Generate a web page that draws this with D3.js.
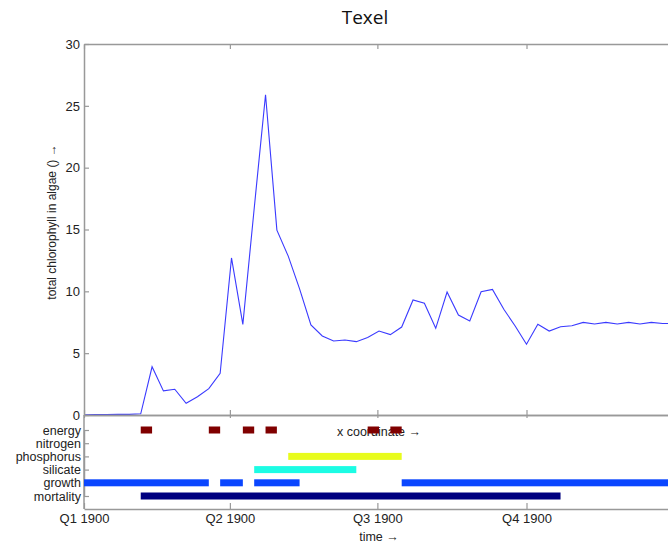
<!DOCTYPE html>
<html>
<head>
<meta charset="utf-8">
<script src="https://cdn.jsdelivr.net/npm/d3@7"></script>
<style>
  body { margin: 0; background: #fff; }
  svg { display: block; font-family: "Liberation Sans", Arial, sans-serif; }
</style>
</head>
<body>
<svg></svg>
<script>
// ---------------- data ----------------
// weekly chlorophyll values, week 0 = 1 Jan 1900
const chlorophyll = [0.02, 0.03, 0.04, 0.05, 0.05, 0.1, 3.9, 1.95, 2.08, 0.95,
  1.48, 2.13, 3.37, 12.7, 7.33, 16.7, 25.9, 14.95, 12.85, 10.2,
  7.28, 6.39, 5.98, 6.06, 5.93, 6.26, 6.79, 6.5, 7.11, 9.3,
  9.03, 7.01, 9.94, 8.08, 7.6, 9.97, 10.16, 8.55, 7.2, 5.72,
  7.33, 6.79, 7.14, 7.22, 7.49, 7.36, 7.49, 7.36, 7.49, 7.36,
  7.49, 7.4, 7.4];

const rows = ["energy", "nitrogen", "phosphorus", "silicate", "growth", "mortality"];
const rowColors = ["#800000", "#000000", "#e8fc1c", "#1cfce4", "#0a46ff", "#000080"];
// limiting periods, [start week, end week]
const energyWeeks = [[5, 6], [11, 12], [14, 15], [16, 17], [25, 26], [27, 28]];
const nitrogenWeeks = [];
const phosphorusWeeks = [[18, 28]];
const silicateWeeks = [[15, 24]];
const growthWeeks = [[0, 11], [12, 14], [15, 19], [28, 52]];
const mortalityWeeks = [[5, 42]];
const periods = [energyWeeks, nitrogenWeeks, phosphorusWeeks, silicateWeeks, growthWeeks, mortalityWeeks];

const yTicks = [0, 5, 10, 15, 20, 25, 30];

// ---------------- layout ----------------
const W = 668, H = 548;
const left = 84, right = 674;
const top1 = 44, bot1 = 415;
const bot2 = 509;
const axisColor = "#999";
const textColor = "#222";

const svg = d3.select("svg").attr("width", W).attr("height", H);
svg.append("rect").attr("width", W).attr("height", H).attr("fill", "#fff");

const start = new Date(1900, 0, 1);
const weekDate = w => d3.timeDay.offset(start, w * 7);

const xs = d3.scaleTime().domain([start, weekDate(52)]).range([left, right]);
const ys = d3.scaleLinear().domain([0, 30]).range([bot1, top1]);
const rs = d3.scalePoint().domain(rows).range([430, 496]);

const quarterTicks = [0, 3, 6, 9].map(m => new Date(1900, m, 1));
const qFormat = d => "Q" + (Math.floor(d.getMonth() / 3) + 1) + " " + d.getFullYear();

// ---------------- title ----------------
svg.append("text")
  .attr("x", 365).attr("y", 24)
  .attr("text-anchor", "middle")
  .attr("font-family", "'Open Sans', sans-serif")
  .attr("font-size", 19)
  .attr("fill", "#111")
  .text("Texel");

// ---------------- top panel ----------------
const line = d3.line()
  .x((d, i) => xs(weekDate(i)))
  .y(d => ys(d));

svg.append("path")
  .datum(chlorophyll)
  .attr("d", line)
  .attr("fill", "none")
  .attr("stroke", "#3a3aff")
  .attr("stroke-width", 1.1);

function styleAxis(g, size) {
  g.select(".domain").attr("stroke", axisColor).attr("stroke-width", 1.5);
  g.selectAll(".tick line").attr("stroke", axisColor).attr("stroke-width", 1.2);
  g.selectAll(".tick text").attr("fill", textColor).attr("font-size", size || 12.5);
}

// left y axis (ticks inward)
svg.append("g")
  .attr("transform", "translate(" + left + ",0)")
  .call(d3.axisLeft(ys).tickValues(yTicks).tickSizeInner(-5).tickSizeOuter(0).tickPadding(4))
  .call(styleAxis, 13);
// right box side
svg.append("g")
  .attr("transform", "translate(" + right + ",0)")
  .call(d3.axisRight(ys).tickValues(yTicks).tickSizeInner(-5).tickSizeOuter(0).tickFormat(""))
  .call(styleAxis);
// top box side
svg.append("g")
  .attr("transform", "translate(0," + top1 + ")")
  .call(d3.axisTop(xs).tickValues(quarterTicks).tickSizeInner(-5).tickSizeOuter(0).tickFormat(""))
  .call(styleAxis);
// bottom of top panel
svg.append("g")
  .attr("transform", "translate(0," + bot1 + ")")
  .call(d3.axisBottom(xs).tickValues(quarterTicks).tickSizeInner(-5).tickSizeOuter(0).tickFormat(""))
  .call(styleAxis);

svg.append("text")
  .attr("transform", "translate(53,222) rotate(-90)")
  .attr("text-anchor", "middle")
  .attr("dominant-baseline", "middle")
  .attr("font-size", 12)
  .attr("fill", textColor)
  .text("total chlorophyll in algae () \u2192");

svg.append("text")
  .attr("x", (left + right) / 2).attr("y", 433)
  .attr("text-anchor", "middle")
  .attr("dominant-baseline", "middle")
  .attr("font-size", 12.5)
  .attr("fill", textColor)
  .text("x coordinate \u2192");

// ---------------- lower panel ----------------
svg.append("g")
  .attr("transform", "translate(0," + bot1 + ")")
  .call(d3.axisBottom(xs).tickValues(quarterTicks).tickSizeInner(3).tickSizeOuter(0).tickFormat(""))
  .call(styleAxis);
svg.append("g")
  .attr("transform", "translate(0," + bot2 + ")")
  .call(d3.axisBottom(xs).tickValues(quarterTicks).tickSizeInner(-6).tickSizeOuter(0).tickPadding(5).tickFormat(qFormat))
  .call(styleAxis, 13);
svg.append("g")
  .attr("transform", "translate(" + left + ",0)")
  .call(d3.axisLeft(rs).tickSizeInner(-5).tickSizeOuter(0).tickPadding(3))
  .call(styleAxis, 12.5);
svg.append("line")
  .attr("x1", left).attr("x2", left)
  .attr("y1", bot1).attr("y2", bot2)
  .attr("stroke", axisColor).attr("stroke-width", 1.5);
svg.append("line")
  .attr("x1", right).attr("x2", right)
  .attr("y1", bot1).attr("y2", bot2)
  .attr("stroke", axisColor).attr("stroke-width", 1.5);

rows.forEach((r, i) => {
  svg.append("g")
    .selectAll("rect")
    .data(periods[i])
    .enter()
    .append("rect")
    .attr("x", d => xs(weekDate(d[0])))
    .attr("width", d => xs(weekDate(d[1])) - xs(weekDate(d[0])))
    .attr("y", rs(r) - 3.5)
    .attr("height", 7)
    .attr("fill", rowColors[i]);
});

svg.append("text")
  .attr("x", (left + right) / 2).attr("y", 538)
  .attr("text-anchor", "middle")
  .attr("dominant-baseline", "middle")
  .attr("font-size", 12.5)
  .attr("fill", textColor)
  .text("time \u2192");
</script>
</body>
</html>
